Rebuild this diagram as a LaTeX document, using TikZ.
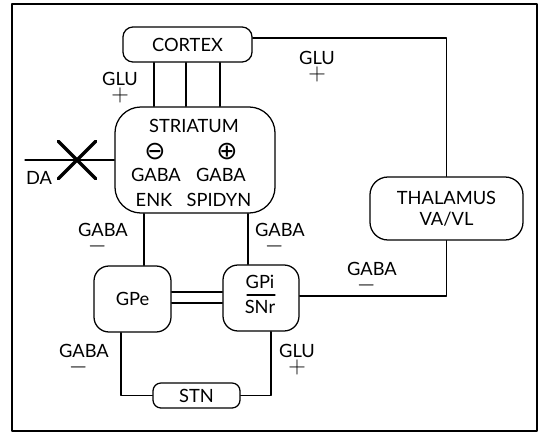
\documentclass[tikz,border=0pt]{standalone}
\usepackage{amsmath}
\usepackage{amssymb}
\usepackage{fontspec}
\setmainfont{Lato}
\newfontfamily\signfont{DejaVu Sans}
\newcommand{\polarity}[1]{{\fontsize{16}{16}\selectfont$#1$}}
\usepackage{tikz}
\usetikzlibrary{shapes.misc}
\tikzset{
  every picture/.style={
    line join=round,
    line cap=round,
  },
  % grey-matter boxes and the fibres between them
  region/.style={draw, line width=0.9pt, rounded corners=0.25cm, inner sep=0pt,
    font=\fontsize{13}{14}\selectfont},
  link/.style={line width=0.75pt},
  tag/.style={inner sep=0pt, font=\fontsize{13}{14}\selectfont},
  % transmitter name with its sign below
  sign/.style={inner sep=0pt, anchor=north, align=center,
    font=\fontsize{13}{12}\selectfont},
}

\begin{document}
\begin{tikzpicture}[x=0.025cm, y=-0.025cm]
    \useasboundingbox (0,0) rectangle (540,433);
    % Frame
    \draw[line width=1.5pt] (12,4) rectangle (537,431);

    % Boxes
    \node[region, minimum width=3.225cm, minimum height=0.875cm] (cortex) at (187.5,44.5) {CORTEX};
    \node[region, minimum width=4cm, minimum height=2.65cm, rounded corners=0.65cm] (striatum) at (195,160) {};
    \node[region, minimum width=3.825cm, minimum height=1.575cm, rounded corners=0.45cm, align=center] (thalamus) at (446.5,208.5) {THALAMUS\\[1pt]VA/VL};
    \node[region, minimum width=1.925cm, minimum height=1.65cm, rounded corners=0.375cm] (gpe) at (132.5,299) {GPe};
    \node[region, minimum width=1.9cm, minimum height=1.65cm, rounded corners=0.375cm] (gpi) at (261,298) {};
    \node[region, minimum width=2.175cm, minimum height=0.625cm, rounded corners=0.2cm] (stn) at (196.5,395.5) {STN};

    % Inside the striatum
    \node[tag] (strname) at (194,126) {STRIATUM};
    \node[tag, font=\signfont\fontsize{18}{18}\selectfont] (minus) at (155,152) {⊖};
    \node[tag, font=\signfont\fontsize{18}{18}\selectfont] (plus) at (227,152) {⊕};
    \node[tag] (gabaind) at (156,175) {GABA};
    \node[tag] (gabadir) at (221,175) {GABA};
    \node[tag] (enk) at (154,200) {ENK};
    \node[tag] (spidyn) at (219,200) {SPIDYN};

    % Inside GPi/SNr
    \node[tag] (gpiname) at (260,282) {GPi};
    \node[tag] (snrname) at (260,307) {SNr};
    \draw[link] ([xshift=-0.35cm, yshift=0.075cm]gpi.center) -- ([xshift=0.35cm, yshift=0.075cm]gpi.center);

    % Fibres
    \foreach \xx in {154,186,220}
      \draw[link] (cortex.south -| \xx,0) -- (striatum.north -| \xx,0);
    \draw[link] (cortex.east |- 0,38) -| (thalamus.north);
    \draw[link] (striatum.south -| 144,0) -- (gpe.north -| 144,0);
    \draw[link] (striatum.south -| 248,0) -- (gpi.north -| 248,0);
    \draw[link] (gpe.east |- 0,292) -- (gpi.west |- 0,292);
    \draw[link] (gpe.east |- 0,303) -- (gpi.west |- 0,303);
    \draw[link] (gpi.east |- 0,296) -| (thalamus.south);
    \draw[link] (gpe.south -| 121,0) |- (stn.west);
    \draw[link] (gpi.south -| 271,0) |- (stn.east);

    % Dopamine input, cut
    \coordinate (da) at (25,160);
    \draw[link] (da) -- (striatum.west);
    \node[cross out, draw, line width=2.4pt, minimum size=0.85cm, inner sep=0pt] (lesion) at (77,160) {};
    \node[tag] (daname) at (39,178) {DA};

    % Transmitters and signs
    \node[sign] (glu1) at (120,71.5) {GLU\\\polarity{+}};
    \node[sign] (glu2) at (317,50.5) {GLU\\\polarity{+}};
    \node[sign] (gaba1) at (103,222.5) {GABA\\\polarity{-}\hspace*{8pt}};
    \node[sign] (gaba2) at (280,222.5) {GABA\\\polarity{-}\hspace*{8pt}};
    \node[sign] (gaba3) at (372,261.5) {GABA\\\polarity{-}\hspace*{8pt}};
    \node[sign] (gaba4) at (84,343.5) {GABA\\\polarity{-}\hspace*{8pt}};
    \node[sign] (glu3) at (297,343.5) {GLU\\\polarity{+}};
\end{tikzpicture}
\end{document}
